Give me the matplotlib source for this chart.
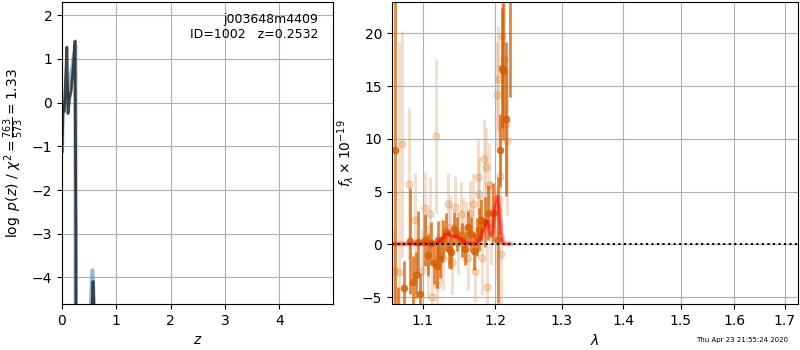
import numpy as np
import matplotlib
matplotlib.use("Agg")
import matplotlib.pyplot as plt
from matplotlib.ticker import ScalarFormatter, NullFormatter

# --- p(z) panel ---
z_blue = [0.0, 0.01, 0.05, 0.10, 0.15, 0.20, 0.23, 0.245, 0.25, 0.255,
          0.50, 0.52, 0.56, 0.60, 0.62, 4.99]
lp_blue = [-1.1, -0.15, -0.1, 0.2, 0.5, 0.89, 1.15, 1.3, -2.0, -7.0,
           -7.0, -5.0, -3.84, -5.0, -7.0, -7.0]
z_dark = [0.0, 0.02, 0.04, 0.06, 0.09, 0.11, 0.14, 0.17, 0.21, 0.24, 0.255, 0.26,
          0.52, 0.545, 0.57, 0.595, 0.62, 4.99]
lp_dark = [-1.13, -0.1, -0.2, 0.37, 1.27, -0.25, 0.1, 0.28, 0.85, 1.41, -3.0, -7.0,
           -7.0, -5.0, -4.09, -5.0, -7.0, -7.0]

# --- spectrum panel (flux x 1e-19) ---
lam_a = [1.0641, 1.0677, 1.0757, 1.0827, 1.0867, 1.0916, 1.0936, 1.0960, 1.1028,
         1.1065, 1.1107, 1.1149, 1.1190, 1.1208, 1.1236, 1.1274, 1.1315, 1.1350,
         1.1385, 1.1422, 1.1468, 1.1524, 1.1569, 1.1617, 1.1663, 1.1704, 1.1736,
         1.1774, 1.1801, 1.1857, 1.1903, 1.1964, 1.2042, 1.2070, 1.2093, 1.2111,
         1.2153, 1.2218]
flux_a = [8.9, -7.0, -4.1, 0.3, -3.6, -2.9, 0.2, -4.7, 0.4,
          -1.0, 0.1, -1.8, -2.1, 0.4, -1.4, 0.5, 1.2, -0.4,
          -0.7, 1.5, 1.0, 0.4, -0.4, 1.6, 1.0, -0.6, 0.7,
          1.4, 2.3, 2.1, 3.0, 3.0, 0.4, 8.9, 16.7, 16.4,
          11.9, 30.0]
err_a = [40.0, 3.0, 2.5, 5.0, 2.5, 2.2, 3.0, 2.0, 2.5,
         2.0, 2.0, 2.0, 2.0, 1.8, 1.8, 1.8, 1.8, 1.8,
         1.6, 1.6, 1.6, 1.6, 1.6, 1.6, 1.6, 1.8, 1.8,
         2.0, 2.0, 2.4, 2.6, 2.8, 6.0, 3.5, 5.7, 6.5,
         7.3, 16.0]

lam_b = [1.0620, 1.0690, 1.0722, 1.0818, 1.0902, 1.0988, 1.1030, 1.1065, 1.1102,
         1.1125, 1.1171, 1.1185, 1.1241, 1.1273, 1.1334, 1.1362, 1.1394, 1.1436,
         1.1473, 1.1510, 1.1542, 1.1584, 1.1612, 1.1649, 1.1681, 1.1713, 1.1750,
         1.1773, 1.1806, 1.1843, 1.1866, 1.1889, 1.1912, 1.1940, 1.2005, 1.2028,
         1.2042, 1.2065, 1.2079, 1.2102, 1.2121, 1.2153, 1.2167]
flux_b = [-2.5, -2.6, 9.5, 5.7, 2.3, -2.5, 3.4, -1.7, 2.9,
          -5.0, 10.3, -3.9, -0.6, -1.3, 3.8, 1.6, -1.7, 3.5,
          0.1, 2.9, 1.4, 1.1, -1.3, 3.0, 3.8, -2.5, 6.4,
          4.8, -1.3, 8.1, 7.3, -4.0, 5.6, 2.0, 1.1, 14.2,
          15.7, 6.5, -0.9, 19.7, 17.5, 11.4, 9.8]
err_b = [4.0, 21.8, 10.7, 7.2, 4.5, 4.0, 3.5, 3.5, 3.5,
         3.5, 7.3, 3.5, 3.0, 3.0, 3.0, 3.0, 3.0, 3.0,
         3.0, 3.0, 3.0, 3.0, 3.0, 3.0, 3.0, 3.0, 3.5,
         3.5, 3.5, 3.8, 3.8, 3.8, 4.0, 4.0, 4.5, 5.0,
         5.0, 5.5, 5.5, 6.0, 6.0, 6.5, 7.0]

lam_m = [1.0596, 1.0703, 1.0837, 1.0970, 1.1107, 1.1190, 1.1246, 1.1301, 1.1343,
         1.1399, 1.1454, 1.1510, 1.1565, 1.1621, 1.1732, 1.1788, 1.1843, 1.1878,
         1.1913, 1.1940, 1.1968, 1.1996, 1.2031, 1.2058, 1.2086, 1.2114, 1.2149,
         1.2218]
flux_m = [0.0, 0.05, 0.05, 0.05, 0.05, 0.1, 0.4, 0.9, 1.0,
          0.8, 0.75, 0.5, 0.2, 0.05, 0.1, 0.5, 1.6, 2.2,
          1.6, 0.8, 1.5, 3.5, 4.5, 3.0, 1.0, 0.2, 0.05,
          0.05]

xticks_r = [1.1, 1.2, 1.3, 1.4, 1.5, 1.6, 1.7]
g141 = (0.835, 0.369, 0.0)

fig = plt.figure(figsize=(8, 3.5), dpi=100)

ax = fig.add_axes([0.0775, 0.131, 0.339, 0.863])
ax.plot(z_blue, lp_blue, color="#4a8bc4", alpha=0.6, lw=3)
ax.plot(z_dark, lp_dark, color="0.15", alpha=0.85, lw=2)
ax.set_xlim(0, 4.99)
ax.set_ylim(-4.61, 2.30)
ax.set_xticks([0, 1, 2, 3, 4])
ax.set_yticks([-4, -3, -2, -1, 0, 1, 2])
ax.grid()
ax.set_xlabel(r"$z$")
ax.set_ylabel(r"$\log\ p(z)$ / $\chi^2=\frac{763}{573}=1.33$")
ax.text(0.945, 0.965, "j003648m4409\nID=1002   z=0.2532", ha="right", va="top",
        transform=ax.transAxes, fontsize=9)

ax2 = fig.add_axes([0.49, 0.131, 0.5075, 0.863])
ax2.errorbar(lam_b, flux_b, yerr=err_b, color=g141, alpha=0.2, marker="o",
             linestyle="None", ms=5, elinewidth=2.2, zorder=1)
ax2.errorbar(lam_a, flux_a, yerr=err_a, color=g141, alpha=0.75, marker="o",
             linestyle="None", ms=4.5, elinewidth=2.0, zorder=2)
ax2.plot(lam_m, flux_m, color="r", alpha=0.35, lw=3.5, zorder=3)
ax2.plot(lam_m, flux_m, color="r", alpha=0.5, lw=1.2, zorder=3)
ax2.set_xscale("log")
ax2.set_xlim(1.06, 1.727)
ax2.plot([1.06, 1.727], [0, 0], color="k", linestyle=":", lw=1.5, zorder=4)
ax2.set_ylim(-5.67, 22.96)
ax2.set_xticks(xticks_r)
ax2.xaxis.set_major_formatter(ScalarFormatter())
ax2.xaxis.set_minor_formatter(NullFormatter())
ax2.tick_params(axis="x", which="minor", length=0)
ax2.set_yticks([-5, 0, 5, 10, 15, 20])
ax2.grid()
ax2.set_xlabel(r"$\lambda$")
ax2.set_ylabel(r"$f_\lambda\times10^{-19}$")

fig.text(0.985, 0.02, "Thu Apr 23 21:55:24 2020", ha="right", va="bottom", fontsize=5)

fig.savefig("out.png", dpi=100)
